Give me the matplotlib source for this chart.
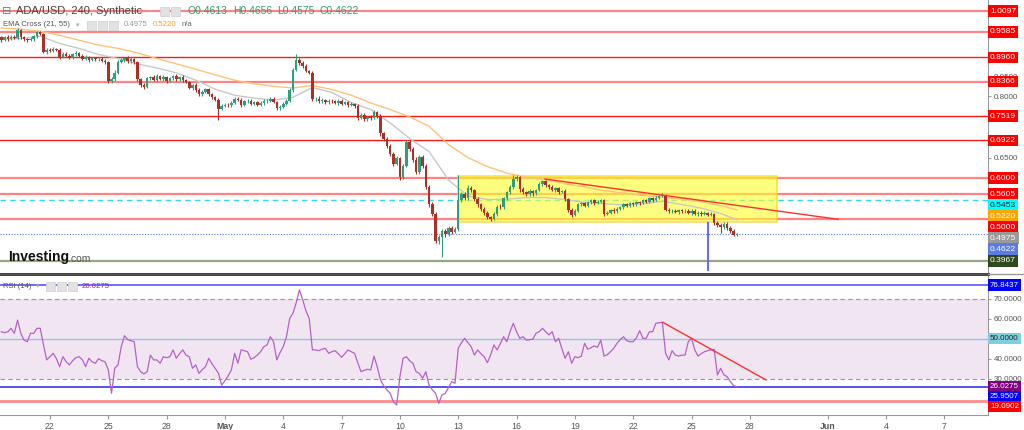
import numpy as np
import pandas as pd
import matplotlib
matplotlib.use('Agg')
import matplotlib.pyplot as plt
import matplotlib.dates as mdates
import matplotlib.transforms as mtransforms
from matplotlib.patches import Rectangle

plt.rcParams['font.family'] = ['Liberation Sans', 'DejaVu Sans']

# --- data (4h candles) -----------------------------------------------------
first_time = '2022-04-19 12:00'
first_open = 0.945
closes = [
    0.938, 0.945, 0.942, 0.947, 0.944, 0.962,
    0.945, 0.940, 0.938, 0.942, 0.948, 0.957,
    0.953, 0.910, 0.915, 0.912, 0.917, 0.914,
    0.898, 0.905, 0.900, 0.895, 0.903, 0.906,
    0.900, 0.893, 0.896, 0.890, 0.894, 0.891,
    0.893, 0.888, 0.884, 0.838, 0.842, 0.858,
    0.885, 0.890, 0.895, 0.886, 0.892, 0.884,
    0.843, 0.828, 0.823, 0.845, 0.848, 0.840,
    0.850, 0.843, 0.847, 0.838, 0.845, 0.850,
    0.842, 0.848, 0.840, 0.835, 0.822, 0.828,
    0.815, 0.805, 0.812, 0.818, 0.805, 0.798,
    0.792, 0.770, 0.776, 0.780, 0.778, 0.785,
    0.795, 0.792, 0.780, 0.788, 0.790, 0.782,
    0.786, 0.780, 0.785, 0.788, 0.790, 0.795,
    0.786, 0.772, 0.775, 0.782, 0.790, 0.815,
    0.865, 0.890, 0.882, 0.875, 0.862, 0.858,
    0.793, 0.795, 0.788, 0.792, 0.786, 0.790,
    0.788, 0.784, 0.790, 0.782, 0.786, 0.780,
    0.782, 0.776, 0.748, 0.755, 0.745, 0.750,
    0.748, 0.762, 0.752, 0.710, 0.695, 0.678,
    0.660, 0.635, 0.648, 0.603, 0.630, 0.688,
    0.672, 0.645, 0.615, 0.652, 0.630, 0.578,
    0.535, 0.512, 0.445, 0.455, 0.470, 0.462,
    0.478, 0.468, 0.475, 0.545, 0.560, 0.552,
    0.575, 0.570, 0.548, 0.535, 0.525, 0.515,
    0.505, 0.500, 0.512, 0.530, 0.528, 0.550,
    0.565, 0.578, 0.598, 0.602, 0.572, 0.565,
    0.560, 0.568, 0.562, 0.570, 0.585, 0.592,
    0.582, 0.578, 0.570, 0.575, 0.566, 0.568,
    0.548, 0.522, 0.510, 0.520, 0.535, 0.538,
    0.532, 0.540, 0.545, 0.538, 0.542, 0.545,
    0.512, 0.515, 0.522, 0.518, 0.525, 0.528,
    0.535, 0.532, 0.538, 0.535, 0.540, 0.538,
    0.545, 0.542, 0.550, 0.546, 0.552, 0.556,
    0.558, 0.522, 0.518, 0.520, 0.516, 0.522,
    0.518, 0.520, 0.514, 0.520, 0.512, 0.515,
    0.512, 0.514, 0.510, 0.512, 0.490, 0.485,
    0.480, 0.488, 0.478, 0.470, 0.4613, 0.4622,
]
# wick lengths above / below the body, in thousandths
up_wick = [
    4, 3, 5, 3, 4, 6,  3, 4, 3, 5, 4, 3,  4, 3, 4, 3, 5, 3,  4, 5, 3, 4, 3, 5,
    4, 3, 5, 3, 4, 3,  3, 4, 3, 4, 5, 6,  5, 4, 3, 5, 4, 3,  4, 3, 5, 4, 3, 5,
    4, 3, 5, 3, 4, 3,  5, 3, 4, 3, 4, 3,  4, 5, 3, 4, 3, 4,  3, 4, 5, 3, 4, 5,
    4, 3, 5, 4, 3, 4,  3, 4, 3, 5, 4, 3,  4, 3, 5, 4, 3, 6,  5, 13, 4, 5, 4, 3,
    4, 3, 5, 4, 3, 4,  3, 4, 5, 3, 4, 3,  4, 3, 5, 4, 5, 3,  4, 6, 3, 5, 4, 5,
    5, 4, 6, 4, 5, 6,  5, 4, 6, 5, 4, 5,  4, 5, 4, 6, 5, 4,  5, 4, 5, 62, 6, 5,
    8, 5, 4, 5, 4, 5,  4, 3, 5, 4, 5, 4,  4, 5, 10, 5, 4, 5,  4, 5, 3, 4, 5, 4,
    4, 3, 5, 3, 4, 3,  4, 3, 5, 4, 3, 4,  3, 4, 3, 4, 3, 4,  3, 4, 3, 4, 3, 4,
    3, 4, 3, 4, 3, 4,  3, 4, 3, 4, 3, 3,  5, 3, 4, 3, 4, 3,  3, 4, 3, 4, 3, 4,
    3, 4, 3, 4, 3, 4,  4, 5, 3, 4, 4, 3.4,
]
low_wick = [
    4, 3, 5, 4, 3, 4,  4, 3, 4, 3, 5, 4,  3, 4, 5, 3, 4, 3,  5, 4, 3, 4, 3, 4,
    3, 4, 3, 5, 4, 3,  4, 3, 4, 5, 4, 5,  3, 4, 5, 4, 3, 4,  5, 4, 4, 3, 4, 3,
    4, 3, 4, 5, 3, 4,  3, 4, 5, 3, 4, 5,  4, 3, 5, 4, 3, 4,  3, 28, 4, 3, 5, 4,
    3, 4, 5, 3, 4, 3,  4, 3, 4, 5, 3, 4,  3, 5, 4, 3, 4, 3,  4, 3, 5, 4, 3, 4,
    5, 4, 3, 4, 5, 4,  4, 3, 5, 4, 3, 5,  4, 5, 6, 4, 5, 4,  5, 4, 5, 6, 5, 5,
    6, 5, 4, 8, 5, 4,  5, 6, 5, 4, 6, 5,  5, 6, 5, 6, 49, 6,  5, 6, 4, 5, 5, 6,
    5, 4, 5, 6, 5, 6,  5, 6, 4, 5, 4, 5,  4, 5, 4, 5, 6, 4,  5, 4, 5, 4, 3, 4,
    4, 5, 3, 4, 5, 4,  4, 5, 6, 4, 3, 4,  3, 4, 3, 4, 3, 4,  4, 3, 4, 3, 4, 3,
    3, 4, 3, 4, 3, 4,  3, 4, 3, 4, 3, 4,  3, 4, 3, 4, 3, 4,  3, 4, 3, 4, 3, 4,
    4, 3, 4, 3, 5, 4,  15, 4, 5, 4, 4, 3.8,
]
# EMA values read once a day (candles 0, 6, 12, ... 222) plus the last candle
ema21_read = [0.941, 0.942, 0.948, 0.930, 0.918, 0.903, 0.893, 0.880, 0.870,
              0.858, 0.840, 0.818, 0.803, 0.796, 0.791, 0.798, 0.822, 0.810,
              0.785, 0.768, 0.735, 0.697, 0.665, 0.595, 0.556, 0.547, 0.548,
              0.552, 0.552, 0.547, 0.540, 0.537, 0.534, 0.537, 0.543, 0.535,
              0.526, 0.513, 0.4975]
ema55_read = [0.968, 0.965, 0.960, 0.950, 0.938, 0.926, 0.918, 0.907, 0.893,
              0.880, 0.867, 0.853, 0.840, 0.831, 0.825, 0.821, 0.827, 0.817,
              0.803, 0.784, 0.768, 0.750, 0.727, 0.682, 0.650, 0.628, 0.612,
              0.602, 0.596, 0.586, 0.578, 0.569, 0.563, 0.557, 0.553, 0.548,
              0.542, 0.532, 0.5220]
rsi = [
    53.5, 53.0, 53.5, 55.2, 52.7, 59.3,  52.7, 49.3, 48.5, 52.7, 52.7, 55.2,
    55.2, 46.9, 39.4, 41.0, 42.7, 40.0,  36.0, 41.0, 38.5, 36.9, 39.0, 40.5,
    41.0, 39.5, 36.0, 40.2, 38.5, 37.7,  40.0, 39.0, 38.5, 34.4, 22.7, 35.2,
    36.9, 46.0, 51.5, 49.5, 49.0, 48.5,  36.0, 33.5, 32.4, 33.5, 41.8, 39.4,
    39.4, 37.7, 41.0, 40.5, 41.0, 44.4,  40.2, 42.5, 44.4, 41.8, 41.0, 35.2,
    36.9, 32.7, 34.5, 36.0, 40.2, 37.5,  35.2, 32.7, 26.8, 29.0, 31.4, 34.4,
    42.7, 37.7, 44.4, 44.0, 43.5, 39.7,  40.5, 41.8, 43.5, 46.0, 46.9, 51.0,
    48.5, 39.4, 43.0, 46.0, 51.0, 60.2,  62.7, 68.0, 74.4, 69.4, 64.0, 60.2,
    44.4, 44.4, 44.0, 44.8, 45.2, 42.7,  43.5, 44.0, 42.5, 40.7, 42.5, 44.4,
    43.5, 42.7, 38.0, 33.5, 34.2, 34.7,  34.4, 41.3, 36.0, 29.4, 26.5, 24.4,
    22.7, 18.5, 16.8, 31.0, 40.2, 41.0,  39.0, 37.7, 33.5, 32.7, 30.2, 33.5,
    26.8, 24.5, 22.7, 17.7, 21.9, 22.7,  25.5, 28.5, 27.7, 45.2, 48.0, 50.2,
    48.0, 46.0, 41.8, 44.4, 42.5, 41.0,  38.0, 41.8, 46.9, 44.4, 47.5, 51.0,
    48.5, 53.5, 57.7, 53.5, 50.2, 51.0,  49.3, 49.5, 49.7, 52.7, 53.5, 55.2,
    53.5, 51.9, 53.5, 48.5, 50.2, 45.0,  40.2, 43.5, 37.7, 41.0, 40.5, 41.3,
    47.7, 44.7, 45.5, 46.4, 45.7, 49.3,  41.3, 42.0, 43.5, 45.2, 47.7, 49.5,
    51.0, 49.0, 48.5, 48.5, 50.5, 54.0,  50.2, 50.2, 53.5, 53.5, 57.7, 58.0,
    58.2, 42.7, 39.4, 44.0, 41.8, 41.3,  41.8, 41.8, 48.5, 50.2, 44.4, 41.3,
    42.5, 43.5, 44.0, 44.4, 44.6, 31.9,  35.2, 31.9, 31.0, 28.5, 26.5, 26.03,
]

# horizontal levels drawn on the price chart
levels = [1.0097, 0.9585, 0.8960, 0.8366, 0.7519, 0.6922, 0.6000, 0.5605, 0.5000]
level_soft = [True, True, False, True, False, False, True, True, True]
cyan_level = 0.5453
last_price = 0.4622
support = 0.3967

# drawings
box_t = ('2022-05-12 23:30', '2022-05-29 09:00')
box_p = (0.4928, 0.6056)
trend_t = ('2022-05-17 11:00', '2022-06-01 13:00')
trend_p = (0.5975, 0.4987)
spike_t = '2022-05-25 20:00'
spike_p = (0.4896, 0.3743)
rsi_trend_t = ('2022-05-23 12:30', '2022-05-28 20:00')
rsi_trend_v = (58.2, 29.4)
rsi_levels = [76.8437, 25.9507, 19.0902]

# right-hand price labels: (value, text, background, text colour)
price_tags = [
    (1.0097, '1.0097', '#ff0000', 'white'),
    (0.9585, '0.9585', '#ff0000', 'white'),
    (0.8960, '0.8960', '#ff0000', 'white'),
    (0.8366, '0.8366', '#ff0000', 'white'),
    (0.7519, '0.7519', '#ff0000', 'white'),
    (0.6922, '0.6922', '#ff0000', 'white'),
    (0.6000, '0.6000', '#ff0000', 'white'),
    (0.5605, '0.5605', '#ff0000', 'white'),
    (0.5453, '0.5453', '#00ffff', '#222222'),
    (0.5220, '0.5220', '#ffa500', 'white'),
    (0.5000, '0.5000', '#ff0000', 'white'),
    (0.4975, '0.4975', '#9a9a9a', 'white'),
    (0.4622, '0.4622', '#5b7be0', 'white'),
    (0.3967, '0.3967', '#2e4a1c', 'white'),
]
rsi_tags = [
    (76.8437, '76.8437', '#0000ff', 'white'),
    (50.0, '50.0000', '#80cfe0', '#222222'),
    (26.0275, '26.0275', '#800080', 'white'),
    (25.9507, '25.9507', '#0000ff', 'white'),
    (19.0902, '19.0902', '#ff0000', 'white'),
]
price_ticks = [0.85, 0.80, 0.65]
rsi_ticks = [30, 40, 60, 70]
day_ticks = ['2022-04-22', '2022-04-25', '2022-04-28', '2022-05-01', '2022-05-04',
             '2022-05-07', '2022-05-10', '2022-05-13', '2022-05-16', '2022-05-19',
             '2022-05-22', '2022-05-25', '2022-05-28', '2022-06-01', '2022-06-04',
             '2022-06-07']
day_labels = ['22', '25', '28', 'May', '4', '7', '10', '13', '16', '19', '22',
              '25', '28', 'Jun', '4', '7']

# --- figure ------------------------------------------------------------------
W, H = 1024, 430
fig = plt.figure(figsize=(W / 100, H / 100), dpi=100)
ax = fig.add_axes([0, 1 - 272 / H, 988 / W, 272 / H])
ax2 = fig.add_axes([0, 1 - 415 / H, 988 / W, (415 - 276) / H], sharex=ax)

UP, DOWN = '#2f9e7a', '#a83228'

times = pd.date_range(first_time, periods=len(closes), freq='4h')
x = mdates.date2num(times)
c = np.array(closes)
o = np.array([first_open] + closes[:-1])
hi = np.maximum(o, c) + np.array(up_wick) / 1000
lo = np.minimum(o, c) - np.array(low_wick) / 1000
col = np.where(c >= o, UP, DOWN)

def d(s):
    return mdates.date2num(pd.Timestamp(s))

# levels
for lv, soft in zip(levels, level_soft):
    if soft:
        ax.axhline(lv, color='#ff5a5a', lw=1.6, alpha=0.75, zorder=1)
    else:
        ax.axhline(lv, color='#ff1a1a', lw=1.0, zorder=1)
ax.axhline(cyan_level, color='#33e0e0', lw=1.0, ls=(0, (4, 3)), zorder=1)
ax.axhline(last_price, color='#5b7be0', lw=0.8, ls=(0, (1, 1.5)), zorder=1)
ax.axhline(support, color='#95a882', lw=1.6, zorder=1)

# yellow range box
ax.add_patch(Rectangle((d(box_t[0]), box_p[0]), d(box_t[1]) - d(box_t[0]),
                       box_p[1] - box_p[0], facecolor='#ffff2a', alpha=0.6,
                       edgecolor='#f5cf20', lw=1.3, zorder=1.5))

# EMAs
ema_idx = list(range(0, len(closes), 6)) + [len(closes) - 1]
ax.plot(x[ema_idx], ema21_read, color='#c8c8c8', lw=1.0, zorder=2)
ax.plot(x[ema_idx], ema55_read, color='#ffc27a', lw=1.0, zorder=2)

# candles
ax.vlines(x, lo, hi, colors=col, lw=0.8, zorder=3)
ax.bar(x, np.maximum(np.abs(c - o), 0.0015), bottom=np.minimum(o, c),
       width=0.13, color=col, linewidth=0, zorder=4)

# drawings
ax.plot([d(trend_t[0]), d(trend_t[1])], trend_p, color='#ff3030', lw=1.0, zorder=5)
ax.plot([d(spike_t)] * 2, spike_p, color='#6c6cf0', lw=1.5, zorder=5)

ax.set_xlim(d('2022-04-19 10:20'), d('2022-06-09 06:00'))
ax.set_ylim(0.3694, 1.0367)

# RSI panel
ax2.axhspan(30, 70, color='#f1e5f2', lw=0, zorder=0)
ax2.axhline(70, color='#999999', lw=0.8, ls=(0, (4, 3)))
ax2.axhline(30, color='#999999', lw=0.8, ls=(0, (4, 3)))
ax2.axhline(50, color='#8ec9e2', lw=1.0)
ax2.axhline(rsi_levels[0], color='#4646ff', lw=1.1)
ax2.axhline(rsi_levels[1], color='#2424e6', lw=1.1)
ax2.axhline(rsi_levels[2], color='#ff8c8c', lw=2.0)
ax2.plot(x, rsi, color='#b562c6', lw=0.9, zorder=3)
ax2.plot([d(rsi_trend_t[0]), d(rsi_trend_t[1])], rsi_trend_v, color='#ff3030',
         lw=1.0, zorder=4)
ax2.set_ylim(11.85, 81.35)

# axes styling
for a in (ax, ax2):
    for s in ('left', 'top'):
        a.spines[s].set_visible(False)
    a.spines['right'].set_color('#9a9a9a')
    a.yaxis.tick_right()
    a.tick_params(axis='y', labelsize=5.8, labelcolor='#555555', color='#9a9a9a',
                  length=2.5, pad=1.5)
ax.spines['bottom'].set_visible(False)
ax.tick_params(axis='x', bottom=False, labelbottom=False)
ax2.spines['bottom'].set_color('#9a9a9a')

ax.set_yticks(price_ticks)
ax.set_yticklabels(['%.4f' % t for t in price_ticks])
ax2.set_yticks(rsi_ticks)
ax2.set_yticklabels(['%.4f' % t for t in rsi_ticks])

ax2.set_xticks([d(t) for t in day_ticks])
ax2.set_xticklabels(day_labels)
ax2.tick_params(axis='x', labelsize=6.3, labelcolor='#555555', color='#9a9a9a',
                length=3, pad=2)
for lab in ax2.get_xticklabels():
    if lab.get_text() in ('May', 'Jun'):
        lab.set_fontweight('bold')

# right-hand value tags, pushed apart so they do not overlap
def tags(a, items, gap, size):
    tr = mtransforms.blended_transform_factory(a.transAxes, a.transData)
    prev = None
    for val, txt, bg, fg in items:
        pos = val if prev is None else min(val, prev - gap)
        prev = pos
        a.text(1.002, pos, txt, transform=tr, ha='left', va='center',
               fontsize=size, color=fg, clip_on=False, zorder=10,
               bbox=dict(boxstyle='square,pad=0.27', fc=bg, ec='none'))

tags(ax, price_tags, 0.027, 6.1)
tags(ax2, rsi_tags, 4.9, 5.8)

# panel separator
fig.add_artist(plt.Line2D([0, 988 / W], [1 - 273.5 / H] * 2, color='#4a4a4a', lw=2.2))
fig.add_artist(plt.Line2D([988 / W, 1], [1 - 273.5 / H] * 2, color='#9a9a9a', lw=1))

# legend / header text
def ftext(px, py, s, **kw):
    fig.text(px / W, 1 - py / H, s, va='center', ha='left', **kw)

def icon(px, py, w=9, h=9):
    fig.add_artist(Rectangle((px / W, 1 - (py + h / 2) / H), w / W, h / H,
                             facecolor='#e2e2e2', edgecolor='#d0d0d0', lw=0.5))

ftext(2, 11, '\u229f', fontsize=8, color='#777777', family=['DejaVu Sans'])
ftext(16, 11, 'ADA/USD, 240, Synthetic', fontsize=8, color='#444444')
ftext(148, 11, '\u2013', fontsize=6, color='#bbbbbb')
icon(160, 11)
icon(171, 11)
ftext(187, 11, 'O0.4613', fontsize=7.5, color=UP)
ftext(233, 11, 'H0.4656', fontsize=7.5, color=UP)
ftext(277, 11, 'L0.4575', fontsize=7.5, color=UP)
ftext(319, 11, 'C0.4622', fontsize=7.5, color=UP)

ftext(3, 25, 'EMA Cross (21, 55)', fontsize=5.5, color='#555555')
ftext(76, 25, '\u25be', fontsize=5, color='#aaaaaa', family=['DejaVu Sans'])
icon(87, 25)
icon(98, 25)
icon(109, 25)
ftext(124, 25, '0.4975', fontsize=5.6, color='#999999')
ftext(153, 25, '0.5220', fontsize=5.6, color='#f5a020')
ftext(182, 25, 'n/a', fontsize=5.6, color='#666666')

ftext(3, 286, 'RSI (14)', fontsize=5.5, color='#555555')
ftext(36, 286, '\u25be', fontsize=5, color='#aaaaaa', family=['DejaVu Sans'])
icon(46, 286)
icon(57, 286)
icon(68, 286)
ftext(82, 286, '26.0275', fontsize=5.6, color='#a0209a')

ftext(8, 257, 'Investing', fontsize=10, color='#111111', fontweight='bold')
ftext(68, 258.5, '.com', fontsize=7.5, color='#555555')

fig.savefig('out.png', dpi=100)
